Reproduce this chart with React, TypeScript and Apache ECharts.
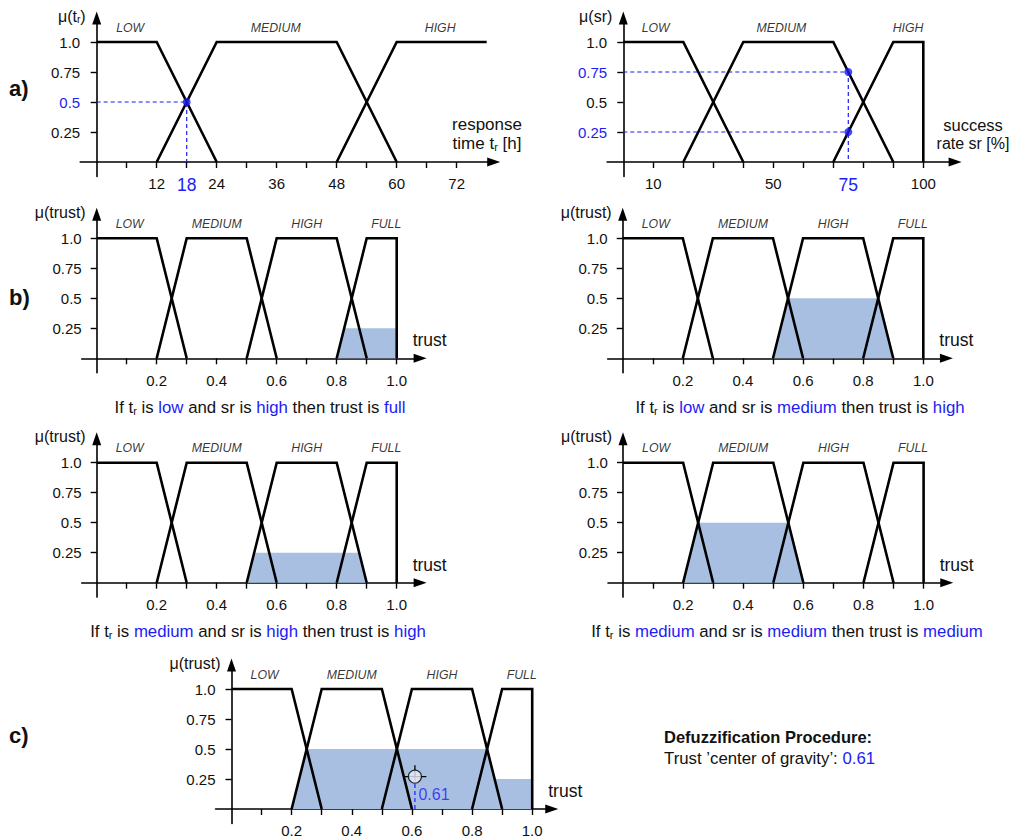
import React, { useEffect, useRef } from 'react';
import * as echarts from 'echarts';

const FONT = '"Liberation Sans", Arial, Helvetica, sans-serif';
const BLUE = '#1c1cf5';
const FILL = '#a9bfe1';
const INK = '#111111';

// ---------- a) response time t_r [h] ----------
const tLow = [[0, 1], [12, 1], [24, 0]];
const tMedium = [[12, 0], [24, 1], [48, 1], [60, 0]];
const tHigh = [[48, 0], [60, 1], [78, 1]];
const tTicks = [6, 12, 18, 24, 30, 36, 42, 48, 54, 60, 66, 72];
const tLabels = [12, 18, 24, 36, 48, 60, 72];
const tSetNames = ['LOW', 'MEDIUM', 'HIGH'];
const tNameX = [6.7, 35.8, 68.7];
const tInput = 18;
const tInputMu = 0.5;

// ---------- a) success rate sr [%] ----------
const srLow = [[0, 1], [20, 1], [40, 0]];
const srMedium = [[20, 0], [40, 1], [70, 1], [90, 0]];
const srHigh = [[70, 0], [90, 1], [100, 1], [100, 0]];
const srTicks = [10, 20, 30, 40, 50, 60, 70, 80, 90, 100];
const srLabels = [10, 50, 75, 100];
const srSetNames = ['LOW', 'MEDIUM', 'HIGH'];
const srNameX = [10.8, 52.7, 94.9];
const srInput = 75;
const srInputMu = [0.75, 0.25];

// ---------- trust ----------
const trustLow = [[0, 1], [0.2, 1], [0.3, 0]];
const trustMedium = [[0.2, 0], [0.3, 1], [0.5, 1], [0.6, 0]];
const trustHigh = [[0.5, 0], [0.6, 1], [0.8, 1], [0.9, 0]];
const trustFull = [[0.8, 0], [0.9, 1], [1, 1], [1, 0]];
const trustTicks = [0.1, 0.2, 0.3, 0.4, 0.5, 0.6, 0.7, 0.8, 0.9, 1.0];
const trustLabels = [0.2, 0.4, 0.6, 0.8, 1.0];
const trustSetNames = ['LOW', 'MEDIUM', 'HIGH', 'FULL'];
const trustNameX = [0.11, 0.4, 0.7, 0.965];
const muTicks = [0.25, 0.5, 0.75, 1];

// ---------- b) rules: clipped output sets ----------
const ruleTr = ['low', 'low', 'medium', 'medium'];
const ruleSr = ['high', 'medium', 'high', 'medium'];
const ruleOut = ['full', 'high', 'high', 'medium'];
const clipRule1 = [[0.8, 0], [0.825, 0.25], [1, 0.25], [1, 0]];
const clipRule2 = [[0.5, 0], [0.55, 0.5], [0.85, 0.5], [0.9, 0]];
const clipRule3 = [[0.5, 0], [0.525, 0.25], [0.875, 0.25], [0.9, 0]];
const clipRule4 = [[0.2, 0], [0.25, 0.5], [0.55, 0.5], [0.6, 0]];

// ---------- c) aggregation & defuzzification ----------
const aggregate = [[0.2, 0], [0.25, 0.5], [0.85, 0.5], [0.875, 0.25], [1, 0.25], [1, 0]];
const centroid = 0.61;
const centroidMu = 0.27;

// ---------- layout (pixels) ----------
const SY = 120;
const YMIN = -0.12;
const YMAX = 1.2;
const layout = [
  { x0: 96.7, y0: 162, sx: 5, xmin: -3.3, xmax: 79.4 },
  { x0: 623.3, y0: 162, sx: 3, xmin: -5.4, xmax: 110.6 },
  { x0: 96.7, y0: 358.3, sx: 300, xmin: -0.05, xmax: 1.078 },
  { x0: 622.7, y0: 358.3, sx: 300.6, xmin: -0.05, xmax: 1.077 },
  { x0: 96.7, y0: 582.7, sx: 300, xmin: -0.05, xmax: 1.078 },
  { x0: 623, y0: 582.7, sx: 300.6, xmin: -0.05, xmax: 1.077 },
  { x0: 231.5, y0: 809, sx: 300.7, xmin: -0.053, xmax: 1.065 },
];

const fmtNum = (v: number) => (v === 1 ? '1.0' : String(v));

function buildOption() {
  const grid: any[] = [];
  const xAxis: any[] = [];
  const yAxis: any[] = [];
  const series: any[] = [];
  const graphic: any[] = [];

  const axisLineStyle = { color: '#000', width: 1.6 };
  const tickStyle = { color: '#000', width: 1.4 };
  const labelBase = { color: INK, fontSize: 15, fontFamily: FONT };
  const hlRich = {
    hl: { color: BLUE, fontSize: 17.5, fontFamily: FONT },
    b: { color: BLUE, fontSize: 15, fontFamily: FONT },
  };

  layout.forEach((p, i) => {
    grid.push({
      left: p.x0 + p.xmin * p.sx,
      top: p.y0 - YMAX * SY,
      width: (p.xmax - p.xmin) * p.sx,
      height: (YMAX - YMIN) * SY,
      containLabel: false,
      outerBoundsMode: 'none',
    });
    let ticks: number[] = trustTicks;
    let labels: number[] = trustLabels;
    let xfmt: any = fmtNum;
    let yfmt: any = fmtNum;
    if (i === 0) {
      ticks = tTicks;
      labels = tLabels;
      xfmt = (v: number) => (v === tInput ? `{hl|${v}}` : String(v));
      yfmt = (v: number) => (v === tInputMu ? `{b|${v}}` : fmtNum(v));
    } else if (i === 1) {
      ticks = srTicks;
      labels = srLabels;
      xfmt = (v: number) => (v === srInput ? `{hl|${v}}` : String(v));
      yfmt = (v: number) => (srInputMu.indexOf(v) >= 0 ? `{b|${v}}` : fmtNum(v));
    }
    xAxis.push({
      type: 'value',
      gridIndex: i,
      min: p.xmin,
      max: p.xmax,
      axisLine: { show: true, onZero: true, lineStyle: axisLineStyle, symbol: ['none', 'triangle'], symbolSize: [9, 13] },
      axisTick: { show: true, inside: false, length: 6, lineStyle: tickStyle, customValues: ticks },
      axisLabel: { show: true, ...labelBase, margin: 0, customValues: labels, formatter: xfmt, rich: hlRich },
      splitLine: { show: false },
    });
    yAxis.push({
      type: 'value',
      gridIndex: i,
      min: YMIN,
      max: YMAX,
      axisLine: { show: true, onZero: true, lineStyle: axisLineStyle, symbol: ['none', 'triangle'], symbolSize: [9, 13] },
      axisTick: { show: true, inside: false, length: 6, lineStyle: tickStyle, customValues: muTicks },
      axisLabel: { show: true, ...labelBase, margin: 0, customValues: muTicks, formatter: yfmt, rich: hlRich },
      splitLine: { show: false },
    });
  });

  const line = (gi: number, data: number[][]) => ({
    type: 'line', xAxisIndex: gi, yAxisIndex: gi, data, symbol: 'none', silent: true, z: 5,
    lineStyle: { color: '#000', width: 2.6, join: 'miter', cap: 'butt' },
  });
  const area = (gi: number, data: number[][]) => ({
    type: 'line', xAxisIndex: gi, yAxisIndex: gi, data, symbol: 'none', silent: true, z: 2,
    lineStyle: { width: 0, color: FILL }, areaStyle: { color: FILL, opacity: 1 },
  });
  const dashed = (gi: number, data: number[][]) => ({
    type: 'line', xAxisIndex: gi, yAxisIndex: gi, data, symbol: 'none', silent: true, z: 3,
    lineStyle: { color: BLUE, width: 1.2, type: [4, 3] },
  });
  const dots = (gi: number, data: number[][]) => ({
    type: 'scatter', xAxisIndex: gi, yAxisIndex: gi, data, symbolSize: 8, silent: true, z: 6,
    itemStyle: { color: BLUE },
  });
  const names = (gi: number, xs: number[], ns: string[]) => ({
    type: 'scatter', xAxisIndex: gi, yAxisIndex: gi, silent: true, clip: false, z: 6, symbolSize: 1,
    itemStyle: { color: 'transparent' },
    data: xs.map((x, k) => ({ value: [x, 1.12], name: ns[k] })),
    label: { show: true, position: 'inside', formatter: '{b}', color: '#000', fontSize: 12.3, fontStyle: 'italic', fontFamily: FONT },
  });

  // a) left
  series.push(dashed(0, [[0, tInputMu], [tInput, tInputMu], [tInput, 0]]));
  [tLow, tMedium, tHigh].forEach((d) => series.push(line(0, d)));
  series.push(dots(0, [[tInput, tInputMu]]));
  series.push(names(0, tNameX, tSetNames));
  // a) right
  series.push(dashed(1, [[0, srInputMu[0]], [srInput, srInputMu[0]], [srInput, 0]]));
  series.push(dashed(1, [[0, srInputMu[1]], [srInput, srInputMu[1]]]));
  [srLow, srMedium, srHigh].forEach((d) => series.push(line(1, d)));
  series.push(dots(1, srInputMu.map((m) => [srInput, m])));
  series.push(names(1, srNameX, srSetNames));
  // b) and c)
  const clips = [clipRule1, clipRule2, clipRule3, clipRule4, aggregate];
  for (let gi = 2; gi <= 6; gi++) {
    series.push(area(gi, clips[gi - 2]));
    [trustLow, trustMedium, trustHigh, trustFull].forEach((d) => series.push(line(gi, d)));
    series.push(names(gi, trustNameX, trustSetNames));
  }
  // c) centroid marker
  series.push(dashed(6, [[centroid, 0], [centroid, centroidMu]]));
  series.push({
    type: 'line', xAxisIndex: 6, yAxisIndex: 6, symbol: 'none', silent: true, z: 6,
    lineStyle: { color: '#000', width: 1.3 },
    data: [[centroid - 0.038, centroidMu], [centroid + 0.038, centroidMu], null, [centroid, centroidMu], [centroid, centroidMu + 0.095]],
    connectNulls: false,
  });
  series.push({
    type: 'scatter', xAxisIndex: 6, yAxisIndex: 6, silent: true, z: 7, symbolSize: 13,
    itemStyle: { color: '#e8eef8', borderColor: '#000', borderWidth: 1.3 },
    data: [[centroid, centroidMu]],
  });
  series.push({
    type: 'scatter', xAxisIndex: 6, yAxisIndex: 6, silent: true, z: 7, symbolSize: 1, clip: false,
    itemStyle: { color: 'transparent' },
    data: [{ value: [centroid, 0.12], name: String(centroid) }],
    label: { show: true, position: 'right', distance: 3, formatter: '{b}', color: BLUE, fontSize: 16, fontFamily: FONT },
  });

  // ---------- texts ----------
  const T = (x: number, y: number, text: string, extra: any = {}) => ({
    type: 'text', x, y, silent: true, z: 10,
    style: { text, fill: INK, fontSize: 16.5, fontFamily: FONT, align: 'left', verticalAlign: 'middle', ...extra },
  });
  const sub = (fs: number) => ({ fontSize: fs * 0.65, fontFamily: FONT, fill: INK, padding: [fs * 0.45, 0, 0, 0] });
  const blueTok = (fs: number) => ({ fontSize: fs, fontFamily: FONT, fill: BLUE });
  const normTok = (fs: number) => ({ fontSize: fs, fontFamily: FONT, fill: INK });

  graphic.push(T(9, 88, 'a)', { fontSize: 22, fontWeight: 'bold' }));
  graphic.push(T(9, 297, 'b)', { fontSize: 22, fontWeight: 'bold' }));
  graphic.push(T(9, 735, 'c)', { fontSize: 22, fontWeight: 'bold' }));

  // y axis names
  const muRich = { n: normTok(16), s: sub(16) };
  graphic.push(T(layout[0].x0 - 11, 42 - 26, '{n|μ(t}{s|r}{n|)}', { align: 'right', rich: muRich }));
  graphic.push(T(layout[1].x0 - 11, 42 - 26, 'μ(sr)', { align: 'right', fontSize: 16 }));
  for (let gi = 2; gi <= 6; gi++) {
    const p = layout[gi];
    graphic.push(T(p.x0 - 11, p.y0 - SY - 26, 'μ(trust)', { align: 'right', fontSize: 16 }));
    graphic.push(T(p.x0 + 1.11 * p.sx, p.y0 - 18, 'trust', { align: 'center', fontSize: 17.5 }));
  }
  // x axis names in a)
  const nameRich = { n: normTok(17), s: sub(17) };
  graphic.push(T(487, 124, 'response', { align: 'center', fontSize: 17 }));
  graphic.push(T(487, 143, '{n|time t}{s|r}{n| [h]}', { align: 'center', rich: nameRich }));
  graphic.push(T(973, 125, 'success', { align: 'center', fontSize: 16.5 }));
  graphic.push(T(973, 143, 'rate sr [%]', { align: 'center', fontSize: 16 }));

  // rule captions
  const capRich = { n: normTok(16.8), s: sub(16.8), b: blueTok(16.8) };
  const capPos = [[260, 407], [800, 407], [258, 631], [787, 631]];
  for (let k = 0; k < 4; k++) {
    const txt = `{n|If t}{s|r}{n| is }{b|${ruleTr[k]}}{n| and sr is }{b|${ruleSr[k]}}{n| then trust is }{b|${ruleOut[k]}}`;
    graphic.push(T(capPos[k][0], capPos[k][1], txt, { align: 'center', rich: capRich }));
  }

  graphic.push(T(664, 737, 'Defuzzification Procedure:', { fontWeight: 'bold', fontSize: 16.5 }));
  graphic.push(T(664, 758, `{n|Trust ’center of gravity’: }{b|${centroid}}`, { rich: capRich }));

  return {
    animation: false,
    backgroundColor: '#ffffff',
    textStyle: { fontFamily: FONT },
    grid,
    xAxis,
    yAxis,
    series,
    graphic,
  };
}

export default function App() {
  const ref = useRef<HTMLDivElement>(null);
  useEffect(() => {
    if (!ref.current) return;
    const chart = echarts.init(ref.current, null, { renderer: 'svg' });
    chart.setOption(buildOption() as any);
    return () => chart.dispose();
  }, []);
  return (
    <div
      ref={ref}
      style={{ position: 'absolute', left: 0, top: 0, width: 1011, height: 838, background: '#fff' }}
    />
  );
}
